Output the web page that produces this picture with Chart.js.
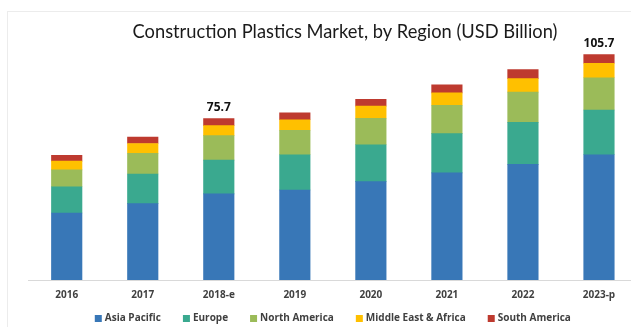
<!DOCTYPE html>
<html>
<head>
<meta charset="utf-8">
<title>Construction Plastics Market, by Region</title>
<script src="https://cdn.jsdelivr.net/npm/chart.js@4.4.0/dist/chart.umd.min.js"></script>
<style>
  html, body { margin: 0; padding: 0; background: #fff; overflow: hidden; }
  #wrap { position: relative; width: 640px; height: 327px; }
  #frame { position: absolute; left: 7px; top: 11px; right: 0; bottom: 0;
           border-left: 1px solid #ececec; border-top: 1px solid #ececec; }
  canvas { position: absolute; left: 0; top: 0; }
</style>
</head>
<body>
<div id="wrap">
  <div id="frame"></div>
  <canvas id="regionChart" width="640" height="327"></canvas>
</div>
<script>
// Market size per region, USD billion
const years = ['2016', '2017', '2018-e', '2019', '2020', '2021', '2022', '2023-p'];
const asiaPacific      = [31.4, 35.8, 40.4, 42.2, 46.1, 50.2, 54.2, 58.7];
const europe           = [12.3, 13.9, 15.8, 16.5, 17.3, 18.4, 19.7, 21.0];
const northAmerica     = [7.9, 9.7, 11.5, 11.5, 12.4, 13.3, 14.2, 15.1];
const middleEastAfrica = [4.1, 4.6, 4.7, 4.9, 5.7, 5.8, 6.3, 6.8];
const southAmerica     = [2.7, 3.0, 3.3, 3.3, 3.2, 3.8, 4.2, 4.1];

// years that get a total printed above the stack
const totalLabelYears = ['2018-e', '2023-p'];

const TITLE = 'Construction Plastics Market, by Region (USD Billion)';
const TEXT_FONT = 'bold 10px "Open Sans"';

// title drawn by hand so it can sit a bit right of centre
const chartTitle = {
    id: 'chartTitle',
    afterDraw(chart) {
        const ctx = chart.ctx;
        ctx.save();
        ctx.font = '18.3px Lato';
        ctx.fillStyle = '#1a1a1a';
        ctx.textAlign = 'center';
        ctx.textBaseline = 'alphabetic';
        ctx.fillText(TITLE, 345, 38);
        ctx.restore();
    }
};

// stack totals above selected bars
const totalLabels = {
    id: 'totalLabels',
    afterDatasetsDraw(chart) {
        const ctx = chart.ctx;
        const xScale = chart.scales.x;
        const yScale = chart.scales.y;
        ctx.save();
        ctx.font = 'bold 12px "Open Sans"';
        ctx.fillStyle = '#111';
        ctx.textAlign = 'center';
        ctx.textBaseline = 'alphabetic';
        years.forEach(function(yr, i) {
            if (!totalLabelYears.includes(yr)) return;
            let sum = 0;
            chart.data.datasets.forEach(function(ds) { sum += ds.data[i]; });
            const x = xScale.getPixelForValue(i);
            const y = yScale.getPixelForValue(sum);
            ctx.fillText(sum.toFixed(1), x, y - 8);
        });
        ctx.restore();
    }
};

// legend row under the axis, wider gaps than the built-in legend allows
const bottomLegend = {
    id: 'bottomLegend',
    afterDraw(chart) {
        const ctx = chart.ctx;
        const area = chart.chartArea;
        const box = 7, textGap = 3, itemGap = 22;
        const y = 318.5;
        ctx.save();
        ctx.font = TEXT_FONT;
        ctx.textBaseline = 'middle';
        ctx.textAlign = 'left';
        const sets = chart.data.datasets;
        const widths = sets.map(function(ds) {
            return box + textGap + ctx.measureText(ds.label).width;
        });
        const total = widths.reduce(function(a, b) { return a + b; }, 0) + itemGap * (sets.length - 1);
        let x = (area.left + area.right) / 2 - total / 2;
        sets.forEach(function(ds, i) {
            ctx.fillStyle = ds.backgroundColor;
            ctx.fillRect(x, y - box / 2, box, box);
            ctx.fillStyle = '#404040';
            ctx.fillText(ds.label, x + box + textGap, y);
            x += widths[i] + itemGap;
        });
        ctx.restore();
    }
};

function makeSet(label, data, color) {
    return {
        label: label,
        data: data,
        backgroundColor: color,
        borderWidth: 0,
        barThickness: 30.5
    };
}

document.addEventListener('DOMContentLoaded', function() {
    const ctx = document.getElementById('regionChart').getContext('2d');
    new Chart(ctx, {
        type: 'bar',
        data: {
            labels: years,
            datasets: [
                makeSet('Asia Pacific', asiaPacific, '#3877b7'),
                makeSet('Europe', europe, '#3aa98f'),
                makeSet('North America', northAmerica, '#9bbb59'),
                makeSet('Middle East & Africa', middleEastAfrica, '#ffc000'),
                makeSet('South America', southAmerica, '#be3a2f')
            ]
        },
        options: {
            responsive: false,
            animation: false,
            layout: {
                padding: { left: 28.7, right: 3, top: 24, bottom: 17 }
            },
            plugins: {
                title: { display: false },
                tooltip: { enabled: false },
                legend: { display: false }
            },
            scales: {
                x: {
                    stacked: true,
                    grid: { display: false, drawTicks: false },
                    border: { display: true, color: '#d9d9d9', width: 1 },
                    ticks: {
                        padding: 9,
                        color: '#404040',
                        font: { family: 'Open Sans', size: 10, weight: 'bold' }
                    }
                },
                y: {
                    stacked: true,
                    display: false,
                    min: 0,
                    max: 120
                }
            }
        },
        plugins: [chartTitle, totalLabels, bottomLegend]
    });
});
</script>
</body>
</html>
